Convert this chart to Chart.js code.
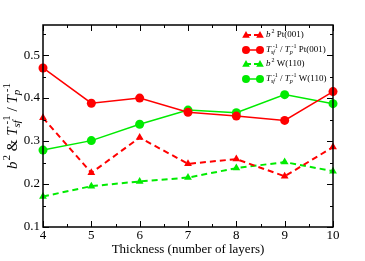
<!DOCTYPE html>
<html>
<head>
<meta charset="utf-8">
<script src="https://cdn.jsdelivr.net/npm/chart.js@4/dist/chart.umd.min.js"></script>
<style>
  html, body { margin: 0; padding: 0; background: #fff; }
  #wrap { width: 365px; height: 261px; }
</style>
</head>
<body>
<div id="wrap"><canvas id="chart"></canvas></div>
<script>
// --- DATA ---
const layers = [4, 5, 6, 7, 8, 9, 10];
const b2Pt = [0.354, 0.226, 0.308, 0.247, 0.258, 0.218, 0.286];
const ratioPt = [0.470, 0.388, 0.400, 0.367, 0.358, 0.348, 0.415];
const b2W = [0.171, 0.195, 0.206, 0.215, 0.237, 0.251, 0.230];
const ratioW = [0.279, 0.301, 0.339, 0.372, 0.366, 0.408, 0.387];
const yTicks = [0.1, 0.2, 0.3, 0.4, 0.5];

const RED = '#ff0000';
const GREEN = 'rgb(0,235,0)';
const SERIF = '"Liberation Serif", "DejaVu Serif", serif';

function pts(arr) {
    return arr.map((v, i) => ({ x: layers[i], y: v }));
}

// draw text with italic parts, sub/superscripts
function richText(ctx, x, y, parts, size) {
    let cx = x;
    parts.forEach(p => {
        if (p.sub !== undefined || p.sup !== undefined) {
            const small = Math.round(size * 0.7);
            let w = 0;
            if (p.sub !== undefined) {
                ctx.font = (p.subIt ? 'italic ' : '') + small + 'px ' + SERIF;
                ctx.fillText(p.sub, cx, y + size * 0.3);
                w = Math.max(w, ctx.measureText(p.sub).width);
            }
            if (p.sup !== undefined) {
                const gap = p.sub !== undefined ? size * 0.2 : 1;
                ctx.font = small + 'px ' + SERIF;
                ctx.fillText(p.sup, cx + gap, y - size * 0.42);
                w = Math.max(w, ctx.measureText(p.sup).width + gap);
            }
            cx += w;
        } else {
            ctx.font = (p.it ? 'italic ' : '') + size + 'px ' + SERIF;
            ctx.fillText(p.t, cx, y);
            cx += ctx.measureText(p.t).width;
        }
    });
    return cx - x;
}

function measureRich(ctx, parts, size) {
    ctx.save();
    ctx.globalAlpha = 0;
    const w = richText(ctx, 0, 0, parts, size);
    ctx.restore();
    return w;
}

const ratioParts = [{ t: 'T', it: true }, { sub: 'sf', subIt: true, sup: '-1' }, { t: ' / ' }, { t: 'T', it: true }, { sub: 'p', subIt: true, sup: '-1' }];
const legendItems = [
    { color: RED, shape: 'triangle', dash: [5, 3], parts: [{ t: 'b', it: true }, { sup: '2' }, { t: ' Pt(001)' }] },
    { color: RED, shape: 'circle', dash: [], parts: ratioParts.concat([{ t: ' Pt(001)' }]) },
    { color: GREEN, shape: 'triangle', dash: [5, 3], parts: [{ t: 'b', it: true }, { sup: '2' }, { t: ' W(110)' }] },
    { color: GREEN, shape: 'circle', dash: [], parts: ratioParts.concat([{ t: ' W(110)' }]) }
];

function marker(ctx, shape, x, y, r, color) {
    ctx.fillStyle = color;
    ctx.beginPath();
    if (shape === 'circle') {
        ctx.arc(x, y, r, 0, Math.PI * 2);
    } else {
        ctx.moveTo(x, y - r);
        ctx.lineTo(x + r * 0.95, y + r * 0.7);
        ctx.lineTo(x - r * 0.95, y + r * 0.7);
        ctx.closePath();
    }
    ctx.fill();
}

const framePlugin = {
    id: 'frame',
    afterDraw(chart) {
        const ctx = chart.ctx;
        const a = chart.chartArea;
        const xs = chart.scales.x, ys = chart.scales.y;
        ctx.save();
        ctx.strokeStyle = '#000';
        ctx.lineWidth = 1.5;
        ctx.strokeRect(a.left, a.top, a.right - a.left, a.bottom - a.top);
        ctx.lineWidth = 1;
        ctx.beginPath();
        for (let v = 4; v <= 10; v += 0.5) {
            const px = Math.round(xs.getPixelForValue(v)) + 0.5;
            const len = Number.isInteger(v) ? 6 : 3;
            ctx.moveTo(px, a.bottom); ctx.lineTo(px, a.bottom - len);
            ctx.moveTo(px, a.top); ctx.lineTo(px, a.top + len);
        }
        for (let k = 2; k <= 11; k++) {
            const v = k * 0.05;
            const py = Math.round(ys.getPixelForValue(v)) + 0.5;
            const len = k % 2 === 0 ? 6 : 3;
            ctx.moveTo(a.left, py); ctx.lineTo(a.left + len, py);
            ctx.moveTo(a.right, py); ctx.lineTo(a.right - len, py);
        }
        ctx.stroke();

        // legend
        ctx.textBaseline = 'middle';
        ctx.textAlign = 'left';
        const rows = [35, 50, 64, 79];
        legendItems.forEach((it, i) => {
            const y = rows[i];
            ctx.strokeStyle = it.color;
            ctx.lineWidth = it.dash.length ? 2 : 1.5;
            ctx.setLineDash(it.dash);
            ctx.beginPath();
            ctx.moveTo(246, y); ctx.lineTo(260, y);
            ctx.stroke();
            ctx.setLineDash([]);
            marker(ctx, it.shape, 246, y, 4, it.color);
            marker(ctx, it.shape, 260, y, 4, it.color);
            ctx.fillStyle = '#000';
            richText(ctx, 266, y, it.parts, 9);
        });

        // y axis title
        const yParts = [{ t: 'b', it: true }, { sup: '2' }, { t: ' & ' }].concat(ratioParts);
        const w = measureRich(ctx, yParts, 15);
        ctx.translate(13, 126);
        ctx.rotate(-Math.PI / 2);
        ctx.fillStyle = '#000';
        richText(ctx, -w / 2, 0, yParts, 15);
        ctx.restore();
    }
};

new Chart(document.getElementById('chart').getContext('2d'), {
    type: 'line',
    data: {
        datasets: [
            {
                label: 'b2 Pt(001)', data: pts(b2Pt),
                borderColor: RED, backgroundColor: RED, borderWidth: 2, borderDash: [6, 4],
                pointStyle: 'triangle', pointRadius: 4.5, pointBorderWidth: 0, tension: 0
            },
            {
                label: 'Tsf/Tp Pt(001)', data: pts(ratioPt),
                borderColor: RED, backgroundColor: RED, borderWidth: 1.5,
                pointStyle: 'circle', pointRadius: 4.5, pointBorderWidth: 0, tension: 0
            },
            {
                label: 'b2 W(110)', data: pts(b2W),
                borderColor: GREEN, backgroundColor: GREEN, borderWidth: 2, borderDash: [6, 4],
                pointStyle: 'triangle', pointRadius: 4.5, pointBorderWidth: 0, tension: 0
            },
            {
                label: 'Tsf/Tp W(110)', data: pts(ratioW),
                borderColor: GREEN, backgroundColor: GREEN, borderWidth: 1.5,
                pointStyle: 'circle', pointRadius: 4.5, pointBorderWidth: 0, tension: 0
            }
        ]
    },
    options: {
        responsive: true,
        maintainAspectRatio: false,
        animation: false,
        clip: false,
        plugins: { legend: { display: false }, tooltip: { enabled: false } },
        layout: { padding: { left: 0, right: 32, top: 25, bottom: 0 } },
        scales: {
            x: {
                type: 'linear', min: 4, max: 10,
                grid: { display: false, drawTicks: false },
                border: { display: false },
                afterBuildTicks: (s) => { s.ticks = layers.map(v => ({ value: v })); },
                afterFit: (s) => { s.height = 34; },
                ticks: { color: '#000', font: { size: 13, family: SERIF }, padding: 1, maxRotation: 0 },
                title: { display: true, text: 'Thickness (number of layers)', color: '#000', font: { size: 13, family: SERIF }, padding: { top: 0, bottom: 4 } }
            },
            y: {
                min: 0.1, max: 0.57,
                grid: { display: false, drawTicks: false },
                border: { display: false },
                afterBuildTicks: (s) => { s.ticks = yTicks.map(v => ({ value: v })); },
                afterFit: (s) => { s.width = 43; },
                ticks: { color: '#000', font: { size: 13, family: SERIF }, padding: 3, callback: (v) => v.toFixed(1) }
            }
        }
    },
    plugins: [framePlugin]
});
</script>
</body>
</html>
